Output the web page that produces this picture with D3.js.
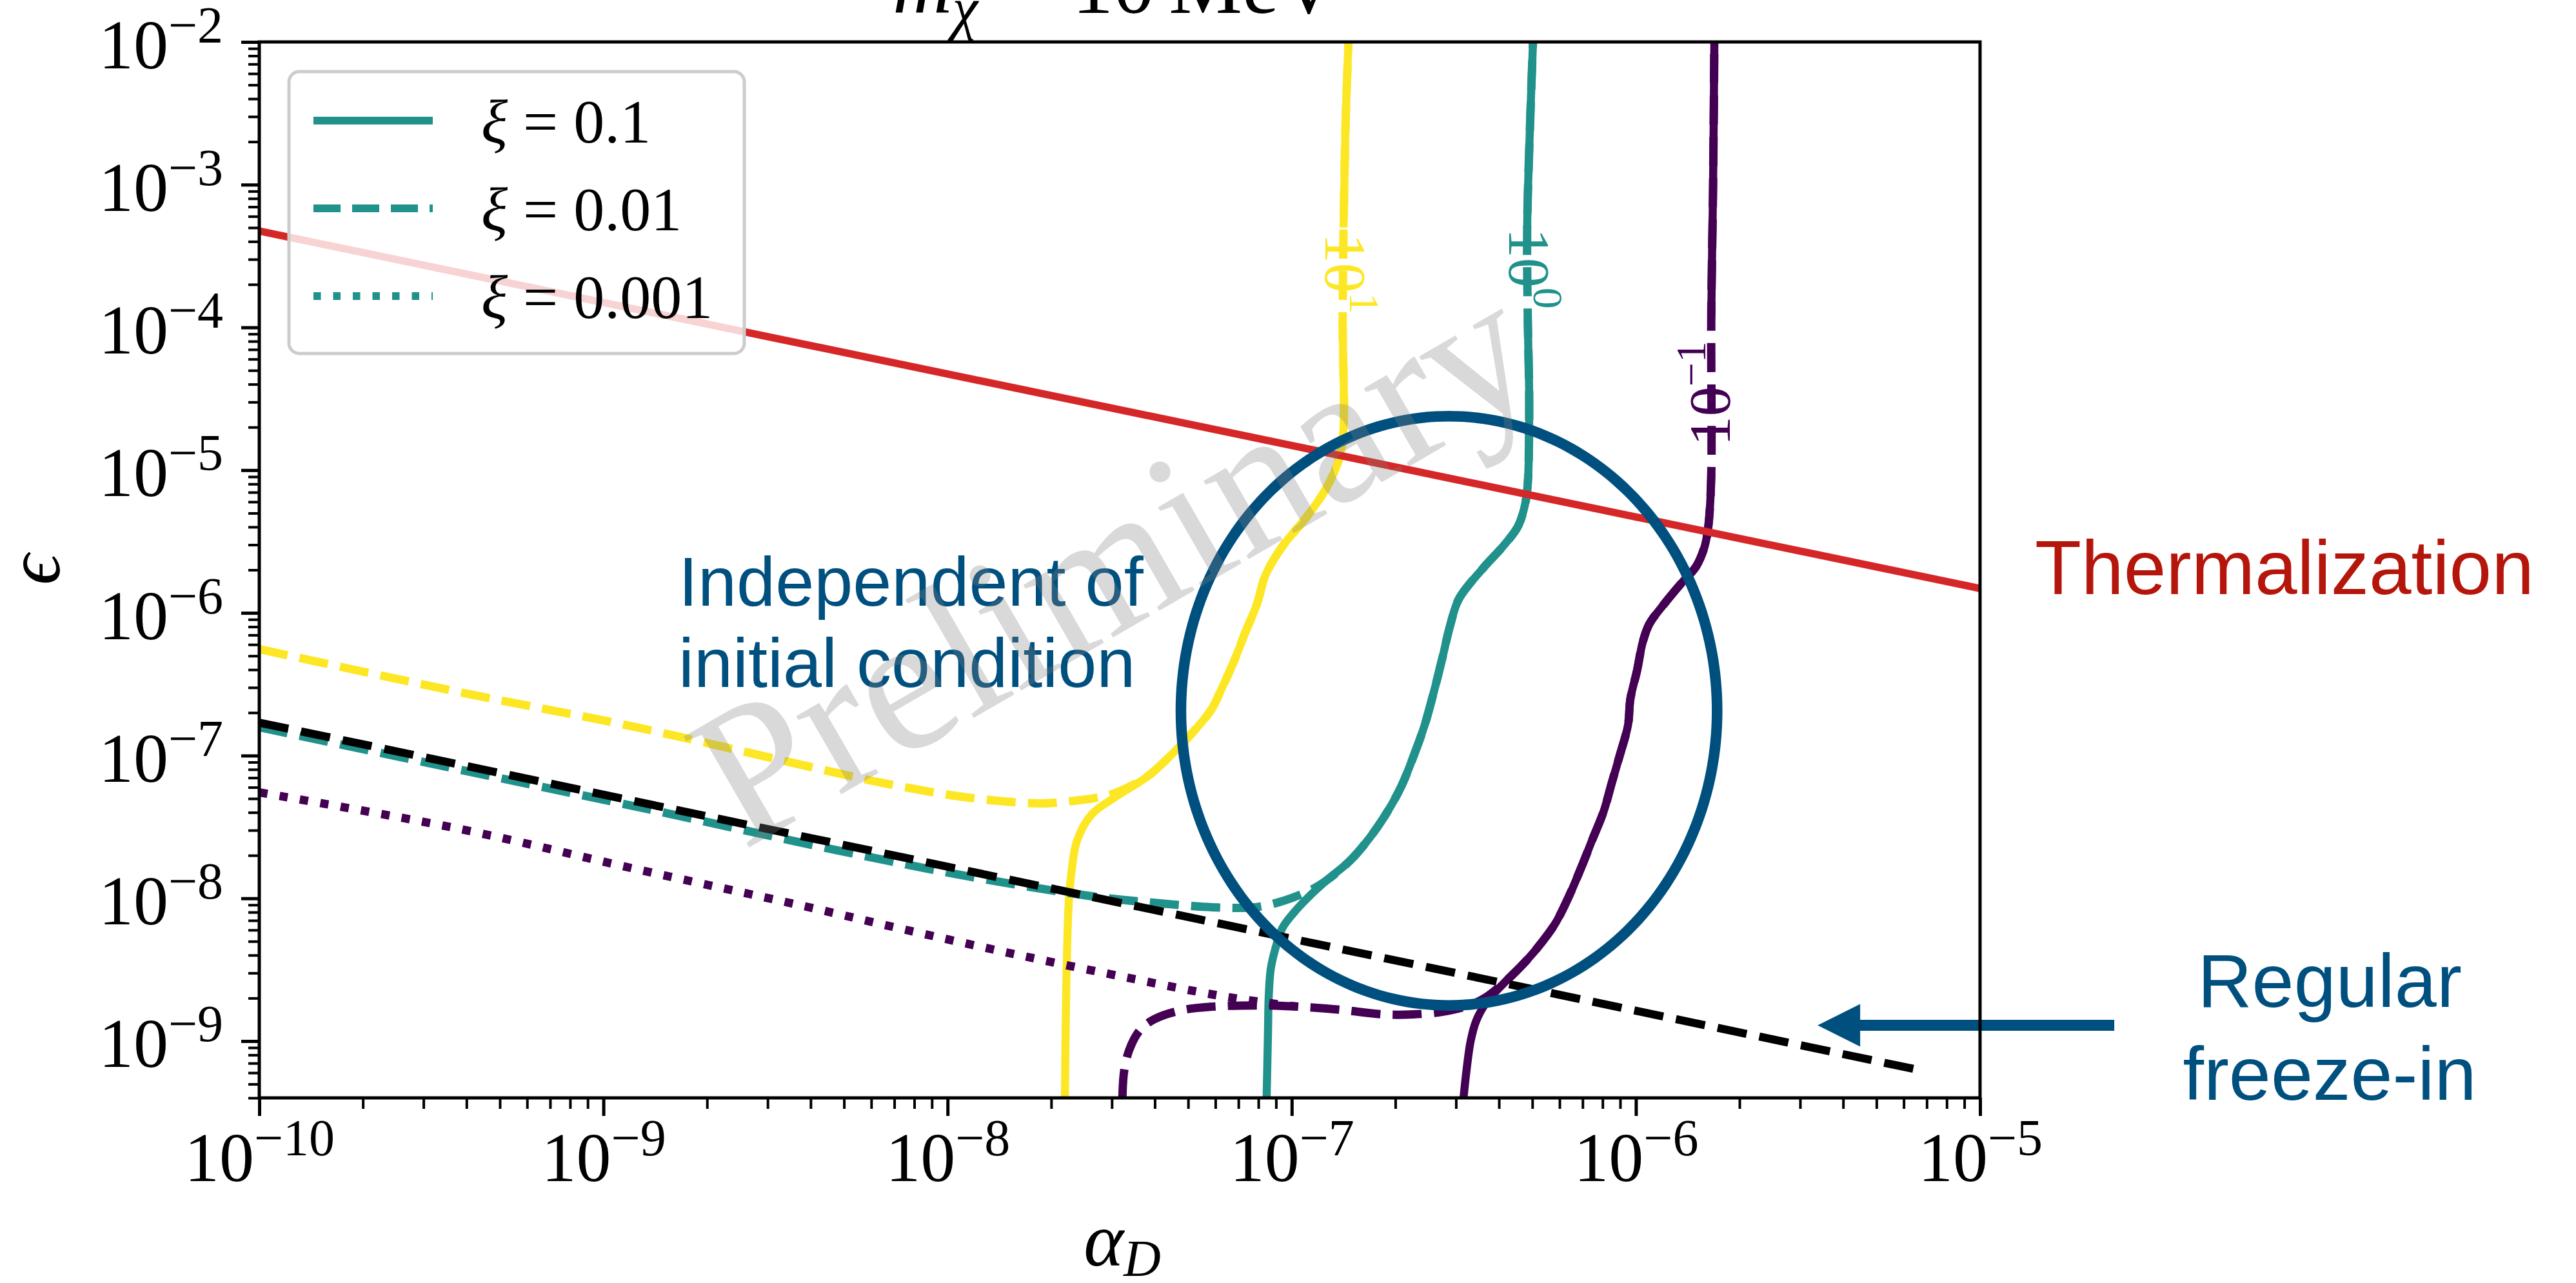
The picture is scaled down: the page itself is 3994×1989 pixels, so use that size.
<!DOCTYPE html>
<html>
<head>
<meta charset="utf-8">
<style>
  body { margin: 0; background: #fff; }
  svg { display: block; }
</style>
</head>
<body>
<svg id="chart" width="3994" height="1989" viewBox="0 0 3994 1989" xmlns="http://www.w3.org/2000/svg"></svg>
<script src="https://d3js.org/d3.v7.min.js"></script>
<script>
// every point is [log10(alpha_D), log10(epsilon)]

// xi = 0.1 (solid) contours
const solidYellow = [[-6.835,-2.0],[-6.844,-2.61],[-6.852,-3.917],[-6.850,-4.726],[-6.863,-4.925],[-6.900,-5.128],
  [-6.958,-5.332],[-7.026,-5.531],[-7.076,-5.734],[-7.101,-5.938],[-7.135,-6.137],[-7.168,-6.340],[-7.206,-6.543],
  [-7.234,-6.679],[-7.296,-6.860],[-7.356,-7.009],[-7.421,-7.149],[-7.509,-7.285],[-7.581,-7.411],[-7.624,-7.597],
  [-7.639,-7.796],[-7.648,-8.035],[-7.654,-8.487],[-7.657,-8.939],[-7.659,-9.401]];
const solidTeal = [[-6.299,-2.0],[-6.308,-2.61],[-6.316,-3.32],[-6.314,-3.957],[-6.310,-4.523],[-6.314,-5.088],
  [-6.321,-5.228],[-6.342,-5.391],[-6.385,-5.531],[-6.443,-5.684],[-6.514,-5.901],[-6.539,-6.082],[-6.563,-6.322],
  [-6.584,-6.525],[-6.614,-6.788],[-6.644,-6.991],[-6.681,-7.212],[-6.722,-7.393],[-6.773,-7.574],[-6.831,-7.737],
  [-6.898,-7.872],[-6.957,-8.004],[-6.998,-8.112],[-7.028,-8.212],[-7.048,-8.356],[-7.061,-8.496],[-7.067,-8.695],
  [-7.069,-8.939],[-7.073,-9.401]];
const solidPurple = [[-5.772,-2.0],[-5.776,-3.062],[-5.781,-3.926],[-5.781,-5.029],[-5.787,-5.332],[-5.793,-5.454],
  [-5.802,-5.549],[-5.825,-5.675],[-5.868,-5.793],[-5.918,-5.938],[-5.961,-6.078],[-5.980,-6.204],[-5.997,-6.408],
  [-6.016,-6.602],[-6.023,-6.788],[-6.046,-6.991],[-6.070,-7.190],[-6.094,-7.393],[-6.128,-7.597],[-6.153,-7.750],
  [-6.192,-7.972],[-6.233,-8.171],[-6.276,-8.316],[-6.317,-8.433],[-6.377,-8.578],[-6.434,-8.727],[-6.464,-8.858],
  [-6.480,-8.998],[-6.492,-9.202],[-6.501,-9.401]];

// xi = 0.01 (dashed) contours, up to where they join the solid ones
const dashedYellow = [[-10,-6.254],[-9.415,-6.557],[-8.913,-6.797],[-8.411,-7.072],[-8.192,-7.190],[-7.940,-7.294],
  [-7.732,-7.335],[-7.648,-7.321],[-7.564,-7.294],[-7.509,-7.258]];
const dashedTeal = [[-10,-6.801],[-9.442,-7.086],[-8.879,-7.371],[-8.317,-7.665],[-7.942,-7.845],[-7.567,-7.990],
  [-7.401,-8.031],[-7.232,-8.062],[-7.106,-8.062],[-7.024,-8.017],[-6.940,-7.936],[-6.898,-7.873]];
const dashedPurple = [[-7.492,-9.401],[-7.487,-9.211],[-7.472,-9.061],[-7.442,-8.926],[-7.401,-8.849],[-7.324,-8.786],
  [-7.230,-8.759],[-7.106,-8.750],[-6.981,-8.759],[-6.857,-8.781],[-6.732,-8.813],[-6.647,-8.813],[-6.563,-8.795],
  [-6.497,-8.759],[-6.443,-8.704]];

// xi = 0.001 (dotted) contour
const dottedPurple = [[-10,-7.258],[-9.415,-7.515],[-8.913,-7.791],[-8.411,-8.058],[-8.130,-8.216],[-7.794,-8.397],
  [-7.461,-8.564],[-7.210,-8.682],[-7.043,-8.741],[-6.981,-8.759]];

// straight lines
const freezeIn = [[-10,-6.769],[-5.161,-9.211]];
const thermalization = [[-10,-3.325],[-5,-5.829]];

// contour levels and where their labels sit
const levelExps = ["1", "0", "\u22121"];
const labelAt = [[-6.846,-3.623],[-6.312,-3.587],[-5.783,-4.464]];
const labelGap = [[-3.30,-3.94],[-3.30,-3.94],[-3.926,-5.029]];

// ellipse: centre and half axes in decades
const ellipseCentre = [-6.543, -6.686];
const ellipseHalf = [0.779, 2.064];
const arrowFrom = [-4.610, -8.890], arrowTo = [-5.472, -8.890];

const legendXi = ["0.1", "0.01", "0.001"];
const xTickExps = [-10, -9, -8, -7, -6, -5];
const yTickExps = [-9, -8, -7, -6, -5, -4, -3, -2];

const W = 3994, H = 1989;
const plot = { left: 402, right: 3070, top: 65, bottom: 1702 };
const serif = "'Liberation Serif', 'DejaVu Serif', serif";
const sans = "'Liberation Sans', Arial, sans-serif";
const col = { yellow: "#fde725", teal: "#21918c", purple: "#440154", red: "#d62728", blue: "#00507f" };
const levelColors = [col.yellow, col.teal, col.purple];

const x = d3.scaleLog().domain([1e-10, 1e-5]).range([plot.left, plot.right]);
const y = d3.scaleLog().domain([4e-10, 1e-2]).range([plot.bottom, plot.top]);
const px = d => x(10 ** d[0]), py = d => y(10 ** d[1]);

const smooth = d3.line().x(px).y(py).curve(d3.curveCatmullRom.alpha(0.5));
const straight = d3.line().x(px).y(py);

const svg = d3.select("#chart");
const defs = svg.append("defs");
defs.append("clipPath").attr("id", "plotClip").append("rect")
  .attr("x", plot.left).attr("y", plot.top)
  .attr("width", plot.right - plot.left).attr("height", plot.bottom - plot.top);

// gaps under the contour labels
const mask = defs.append("mask").attr("id", "labelGaps").attr("maskUnits", "userSpaceOnUse")
  .attr("x", 0).attr("y", 0).attr("width", W).attr("height", H);
mask.append("rect").attr("width", W).attr("height", H).attr("fill", "white");
labelGap.forEach((g, i) => {
  mask.append("rect")
    .attr("x", px(labelAt[i]) - 35).attr("y", py([0, g[0]]))
    .attr("width", 70).attr("height", py([0, g[1]]) - py([0, g[0]]))
    .attr("fill", "black");
});

const area = svg.append("g").attr("clip-path", "url(#plotClip)");

// solid contours
const solids = [solidYellow, solidTeal, solidPurple];
const gSolid = area.append("g").attr("mask", "url(#labelGaps)");
solids.forEach((s, i) => {
  gSolid.append("path").attr("d", smooth(s)).attr("fill", "none")
    .attr("stroke", levelColors[i]).attr("stroke-width", 12.5);
});

// dashed contours carry on along the solid ones
const dashes = [dashedYellow, dashedTeal, dashedPurple];
dashes.forEach((d, i) => {
  const last = d[d.length - 1][1];
  const rest = solids[i].filter(p => p[1] > last + 0.02).reverse();
  area.append("path").attr("d", smooth(d.concat(rest))).attr("fill", "none")
    .attr("stroke", levelColors[i]).attr("stroke-width", 13)
    .attr("stroke-dasharray", "45,19");
});

area.append("path").attr("d", smooth(dottedPurple)).attr("fill", "none")
  .attr("stroke", col.purple).attr("stroke-width", 13).attr("stroke-dasharray", "13,19");

// regular freeze-in
area.append("path").attr("d", straight(freezeIn)).attr("fill", "none")
  .attr("stroke", "#000").attr("stroke-width", 12.5).attr("stroke-dasharray", "46,20");

// thermalization
area.append("path").attr("d", straight(thermalization)).attr("fill", "none")
  .attr("stroke", col.red).attr("stroke-width", 11.5);

// ellipse drawn in log space
const ellPts = d3.range(0, 360, 3).map(a => {
  const t = a * Math.PI / 180;
  return [ellipseCentre[0] + ellipseHalf[0] * Math.cos(t), ellipseCentre[1] + ellipseHalf[1] * Math.sin(t)];
});
area.append("path").attr("d", d3.line().x(px).y(py).curve(d3.curveCardinalClosed)(ellPts))
  .attr("fill", "none").attr("stroke", col.blue).attr("stroke-width", 16.5);

// contour labels
levelExps.forEach((e, i) => {
  const rot = i < 2 ? 90 : -90;
  const t = svg.append("text")
    .attr("transform", `translate(${px(labelAt[i])},${py(labelAt[i])}) rotate(${rot})`)
    .attr("text-anchor", "middle").attr("y", 30)
    .attr("font-family", serif).attr("font-size", 92).attr("fill", levelColors[i]);
  t.append("tspan").text("10");
  t.append("tspan").attr("font-size", 66).attr("dy", -38).text(e);
});

// arrow
const ax0 = px(arrowFrom), ax1 = px(arrowTo), ay = py(arrowTo);
svg.append("line").attr("x1", ax0).attr("x2", ax1 + 60).attr("y1", ay).attr("y2", ay)
  .attr("stroke", col.blue).attr("stroke-width", 17);
svg.append("path")
  .attr("d", `M${ax1},${ay} L${ax1 + 66},${ay - 33} L${ax1 + 66},${ay + 33} Z`)
  .attr("fill", col.blue);

// axes
function tickGroup(axis, tf, size, width) {
  const g = svg.append("g").attr("transform", tf).call(axis.tickSize(size).tickFormat(""));
  g.select(".domain").remove();
  g.selectAll(".tick line").attr("stroke", "#000").attr("stroke-width", width);
  return g;
}
const minorOf = (exps, lo) => {
  const out = [];
  exps.forEach(e => { for (let k = 2; k <= 9; k++) out.push(k * 10 ** e); });
  return out.filter(v => v >= lo);
};
const xMinor = minorOf(xTickExps.slice(0, -1), 1e-10);
const yMinor = minorOf([-10].concat(yTickExps.slice(0, -1)), 4e-10);

tickGroup(d3.axisBottom(x).tickValues(xMinor), `translate(0,${plot.bottom})`, 17, 4);
const gx = tickGroup(d3.axisBottom(x).tickValues(xTickExps.map(e => 10 ** e)), `translate(0,${plot.bottom})`, 28, 5);
tickGroup(d3.axisLeft(y).tickValues(yMinor), `translate(${plot.left},0)`, 17, 4);
const gy = tickGroup(d3.axisLeft(y).tickValues(yTickExps.map(e => 10 ** e)), `translate(${plot.left},0)`, 28, 5);

function powText(sel) {
  sel.each(function (d) {
    const t = d3.select(this).text(null)
      .attr("font-family", serif).attr("font-size", 108).attr("fill", "#000");
    const e = Math.round(Math.log10(d));
    t.append("tspan").text("10");
    t.append("tspan").attr("font-size", 80).attr("dy", -40).text("\u2212" + (-e));
  });
}
gx.selectAll(".tick text").attr("y", 129).attr("dy", 0).call(powText);
gy.selectAll(".tick text").attr("x", -56).attr("dy", 40).call(powText);

// axis labels and title
const xl = svg.append("text").attr("x", (plot.left + plot.right) / 2 + 4).attr("y", 1962)
  .attr("text-anchor", "middle").attr("font-family", serif).attr("font-size", 118).attr("font-style", "italic");
xl.append("tspan").text("\u03b1");
xl.append("tspan").attr("font-size", 80).attr("dy", 16).text("D");

svg.append("text").attr("transform", "translate(92,883) rotate(-90)")
  .attr("text-anchor", "middle").attr("font-family", serif).attr("font-size", 118)
  .attr("font-style", "italic").text("\u03f5");

const title = svg.append("text").attr("x", 1384).attr("y", 20)
  .attr("font-family", serif).attr("font-size", 128);
title.append("tspan").attr("font-style", "italic").text("m");
title.append("tspan").attr("font-style", "italic").attr("font-size", 90).attr("dy", 24).text("\u03c7");
title.append("tspan").attr("dy", -24).attr("dx", 40).text("=");
title.append("tspan").attr("dx", 34).text("10");
title.append("tspan").attr("dx", 22).text("MeV");

// legend
svg.append("rect").attr("x", 448).attr("y", 111).attr("width", 706).attr("height", 437)
  .attr("rx", 16).attr("fill", "#fff").attr("fill-opacity", 0.8)
  .attr("stroke", "#cccccc").attr("stroke-width", 5);
const legendDash = [null, "42,18", "11.5,19"];
legendXi.forEach((v, i) => {
  const ly = 187 + i * 136;
  svg.append("line").attr("x1", 486).attr("x2", 671).attr("y1", ly).attr("y2", ly)
    .attr("stroke", col.teal).attr("stroke-width", 12).attr("stroke-dasharray", legendDash[i]);
  const t = svg.append("text").attr("x", 746).attr("y", ly + 34)
    .attr("font-family", serif).attr("font-size", 96);
  t.append("tspan").attr("font-style", "italic").text("\u03be");
  t.append("tspan").text(" = " + v);
});

// annotations
svg.append("text").attr("x", 3155).attr("y", 921).attr("font-family", sans).attr("font-size", 118)
  .attr("fill", "#b5160b").text("Thermalization");
[["Independent of", 939], ["initial condition", 1065]].forEach(([s, yy]) => {
  svg.append("text").attr("x", 1052).attr("y", yy).attr("font-family", sans).attr("font-size", 108)
    .attr("fill", col.blue).text(s);
});
[["Regular", 1561], ["freeze-in", 1705]].forEach(([s, yy]) => {
  svg.append("text").attr("x", 3612).attr("y", yy).attr("text-anchor", "middle")
    .attr("font-family", sans).attr("font-size", 117).attr("fill", col.blue).text(s);
});

// watermark
svg.append("text").attr("transform", "translate(1730,880) rotate(-30)")
  .attr("text-anchor", "middle").attr("dy", "0.3em")
  .attr("font-family", serif).attr("font-size", 305)
  .attr("fill", "#808080").attr("fill-opacity", 0.3).text("Preliminary");

// spines
svg.append("rect").attr("x", plot.left).attr("y", plot.top)
  .attr("width", plot.right - plot.left).attr("height", plot.bottom - plot.top)
  .attr("fill", "none").attr("stroke", "#000").attr("stroke-width", 5);
</script>
</body>
</html>
